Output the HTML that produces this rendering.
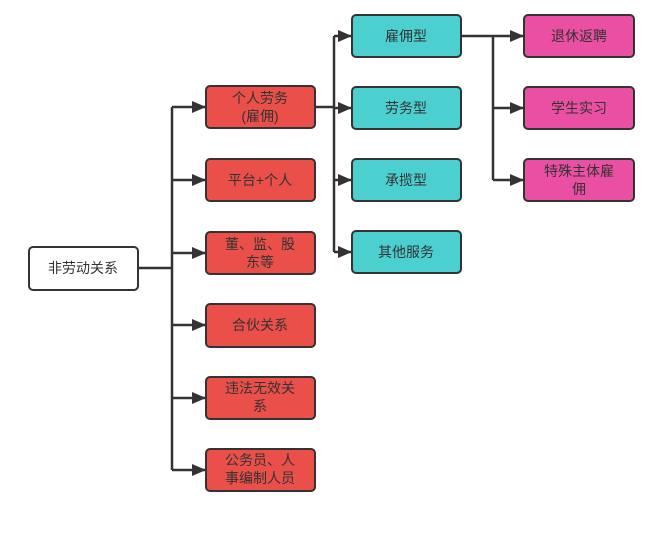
<!DOCTYPE html>
<html><head><meta charset="utf-8"><style>
body{margin:0;background:#fff;width:658px;height:534px;overflow:hidden}
svg text{font-family:"Liberation Sans","Noto Sans CJK SC",sans-serif;font-size:14px;fill:#333;text-anchor:middle}
</style></head><body>
<svg width="658" height="534" xmlns="http://www.w3.org/2000/svg">
<defs><marker id="a" markerWidth="14" markerHeight="12" refX="13" refY="6" orient="auto" markerUnits="userSpaceOnUse"><path d="M0,0L14,6L0,12z" fill="#333"/></marker></defs>
<g stroke="#333" stroke-width="2.5" fill="none">
<path d="M138,268H172"/>
<path d="M172,107V470"/>
<path d="M172,107H205" marker-end="url(#a)"/>
<path d="M172,180H205" marker-end="url(#a)"/>
<path d="M172,253H205" marker-end="url(#a)"/>
<path d="M172,325H205" marker-end="url(#a)"/>
<path d="M172,398H205" marker-end="url(#a)"/>
<path d="M172,470H205" marker-end="url(#a)"/>
<path d="M315,107H334"/>
<path d="M334,36V252"/>
<path d="M334,36H351" marker-end="url(#a)"/>
<path d="M334,108H351" marker-end="url(#a)"/>
<path d="M334,180H351" marker-end="url(#a)"/>
<path d="M334,252H351" marker-end="url(#a)"/>
<path d="M461,36H493"/>
<path d="M493,36V180"/>
<path d="M493,36H523" marker-end="url(#a)"/>
<path d="M493,108H523" marker-end="url(#a)"/>
<path d="M493,180H523" marker-end="url(#a)"/>
</g>
<g stroke="#333" stroke-width="2">
<rect x="29" y="247" width="109" height="43" rx="4" fill="#fff"/>
<rect x="206" y="86" width="109" height="42" rx="4" fill="#ea4f4a"/>
<rect x="206" y="159" width="109" height="42" rx="4" fill="#ea4f4a"/>
<rect x="206" y="232" width="109" height="42" rx="4" fill="#ea4f4a"/>
<rect x="206" y="304" width="109" height="43" rx="4" fill="#ea4f4a"/>
<rect x="206" y="377" width="109" height="42" rx="4" fill="#ea4f4a"/>
<rect x="206" y="449" width="109" height="42" rx="4" fill="#ea4f4a"/>
<rect x="352" y="15" width="109" height="42" rx="4" fill="#4ccfcf"/>
<rect x="352" y="87" width="109" height="42" rx="4" fill="#4ccfcf"/>
<rect x="352" y="159" width="109" height="42" rx="4" fill="#4ccfcf"/>
<rect x="352" y="231" width="109" height="42" rx="4" fill="#4ccfcf"/>
<rect x="524" y="15" width="110" height="42" rx="4" fill="#ea4fa3"/>
<rect x="524" y="87" width="110" height="42" rx="4" fill="#ea4fa3"/>
<rect x="524" y="159" width="110" height="42" rx="4" fill="#ea4fa3"/>
</g>
<text x="83" y="273">非劳动关系</text>
<text x="260" y="103">个人劳务</text><text x="260" y="121">(雇佣)</text>
<text x="260" y="185">平台+个人</text>
<text x="260" y="249">董、监、股</text><text x="260" y="267">东等</text>
<text x="260" y="330">合伙关系</text>
<text x="260" y="393">违法无效关</text><text x="260" y="411">系</text>
<text x="260" y="465">公务员、人</text><text x="260" y="483">事编制人员</text>
<text x="406" y="41">雇佣型</text>
<text x="406" y="113">劳务型</text>
<text x="406" y="185">承揽型</text>
<text x="406" y="257">其他服务</text>
<text x="579" y="41">退休返聘</text>
<text x="579" y="113">学生实习</text>
<text x="579" y="176">特殊主体雇</text><text x="579" y="194">佣</text>
</svg>
</body></html>
